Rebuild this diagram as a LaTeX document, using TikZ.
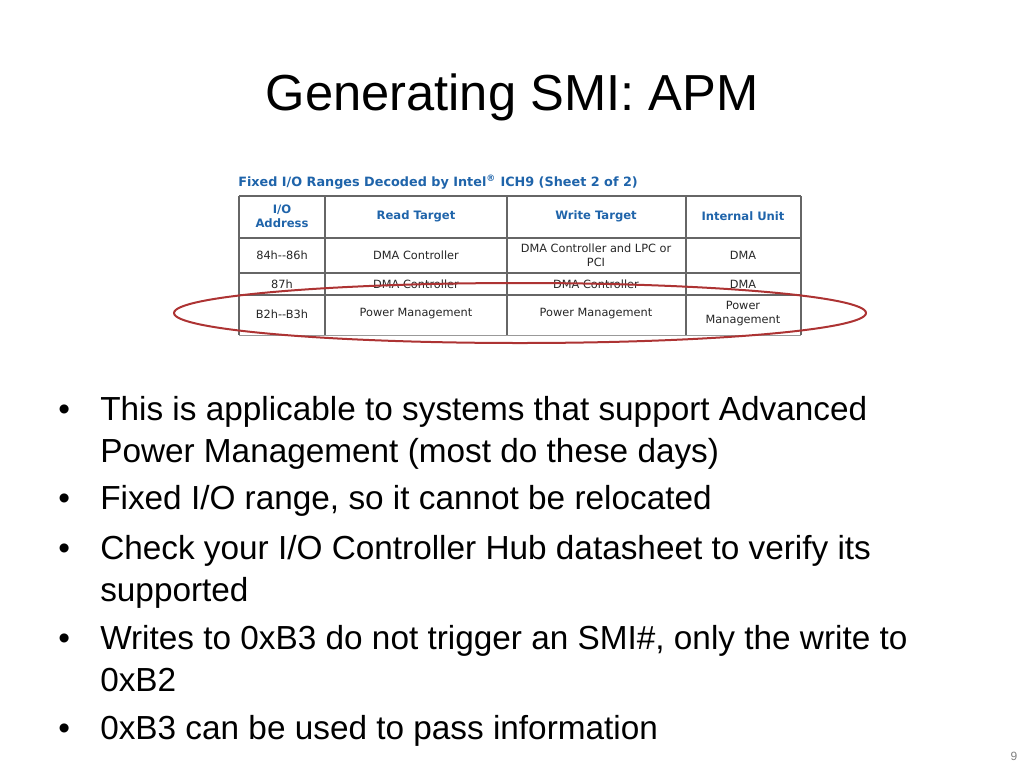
\documentclass[tikz,border=0pt]{standalone}
\usepackage{fontspec}
\setmainfont{Liberation Sans}
\newfontfamily\tabfont{DejaVu Sans}
\definecolor{hdblue}{HTML}{1F64AA}
\begin{document}
\begin{tikzpicture}[x=0.75pt,y=-0.75pt,
  hd/.style={font=\tabfont\bfseries\fontsize{8.7}{10.5}\selectfont,text=hdblue,align=center},
  cell/.style={font=\tabfont\fontsize{8.5}{10.5}\selectfont,text=black!85,align=center},
  bl/.style={font=\fontsize{25}{31}\selectfont,anchor=base west,inner sep=0pt},
  grid/.style={draw=black!60,line width=0.8pt}]
\useasboundingbox (0,0) rectangle (1024,768);
\node (title) at (512,97) {\fontsize{38}{42}\selectfont Generating SMI: APM};
\node[hd,anchor=west,inner sep=0pt,font=\tabfont\bfseries\fontsize{9.6}{11}\selectfont] (cap) at (238,182) {Fixed I/O Ranges Decoded by Intel\textsuperscript{\textregistered} ICH9 (Sheet 2 of 2)};
\draw[grid] (239,196) -- (801,196);
\foreach \y in {238,273,295} \draw[grid] (239,\y) -- (801,\y);
\draw[black!40,line width=0.6pt] (239,335) -- (801,335);
\foreach \x in {239,325,507,686,801} \draw[grid] (\x,196) -- (\x,335);
\node[hd] (h1) at (282,216) {I/O\\Address};
\node[hd] (h2) at (416,216) {Read Target};
\node[hd] (h3) at (596,216) {Write Target};
\node[hd] (h4) at (743,216) {Internal Unit};
\node[cell] (a1) at (282,255) {84h--86h};
\node[cell] (a2) at (416,255) {DMA Controller};
\node[cell] (a3) at (596,255) {DMA Controller and LPC or\\PCI};
\node[cell] (a4) at (743,255) {DMA};
\node[cell] (b1) at (282,284) {87h};
\node[cell] (b2) at (416,284) {DMA Controller};
\node[cell] (b3) at (596,284) {DMA Controller};
\node[cell] (b4) at (743,284) {DMA};
\node[cell] (c1) at (282,314) {B2h--B3h};
\node[cell] (c2) at (416,314) {Power Management};
\node[cell] (c3) at (596,314) {Power Management};
\node[cell] (c4) at (743,314) {Power\\Management};
\draw[red!60!black!80,line width=1.5pt] (520,313) ellipse [x radius=346, y radius=30];
\foreach \n/\y in {1/420,3/509,4/559,6/649,8/739}
  \node[bl] (d\n) at (58,\y) {\textbullet};
\node[bl] (l1) at (100,420) {This is applicable to systems that support Advanced};
\node[bl] (l2) at (100,462) {Power Management (most do these days)};
\node[bl] (l3) at (100,509) {Fixed I/O range, so it cannot be relocated};
\node[bl] (l4) at (100,559) {Check your I/O Controller Hub datasheet to verify its};
\node[bl] (l5) at (100,601) {supported};
\node[bl] (l6) at (100,649) {Writes to 0xB3 do not trigger an SMI\#, only the write to};
\node[bl] (l7) at (100,691) {0xB2};
\node[bl] (l8) at (100,739) {0xB3 can be used to pass information};
\node[text=black!50,font=\fontsize{9}{10}\selectfont] (pg) at (1014,756) {9};
\end{tikzpicture}
\end{document}
